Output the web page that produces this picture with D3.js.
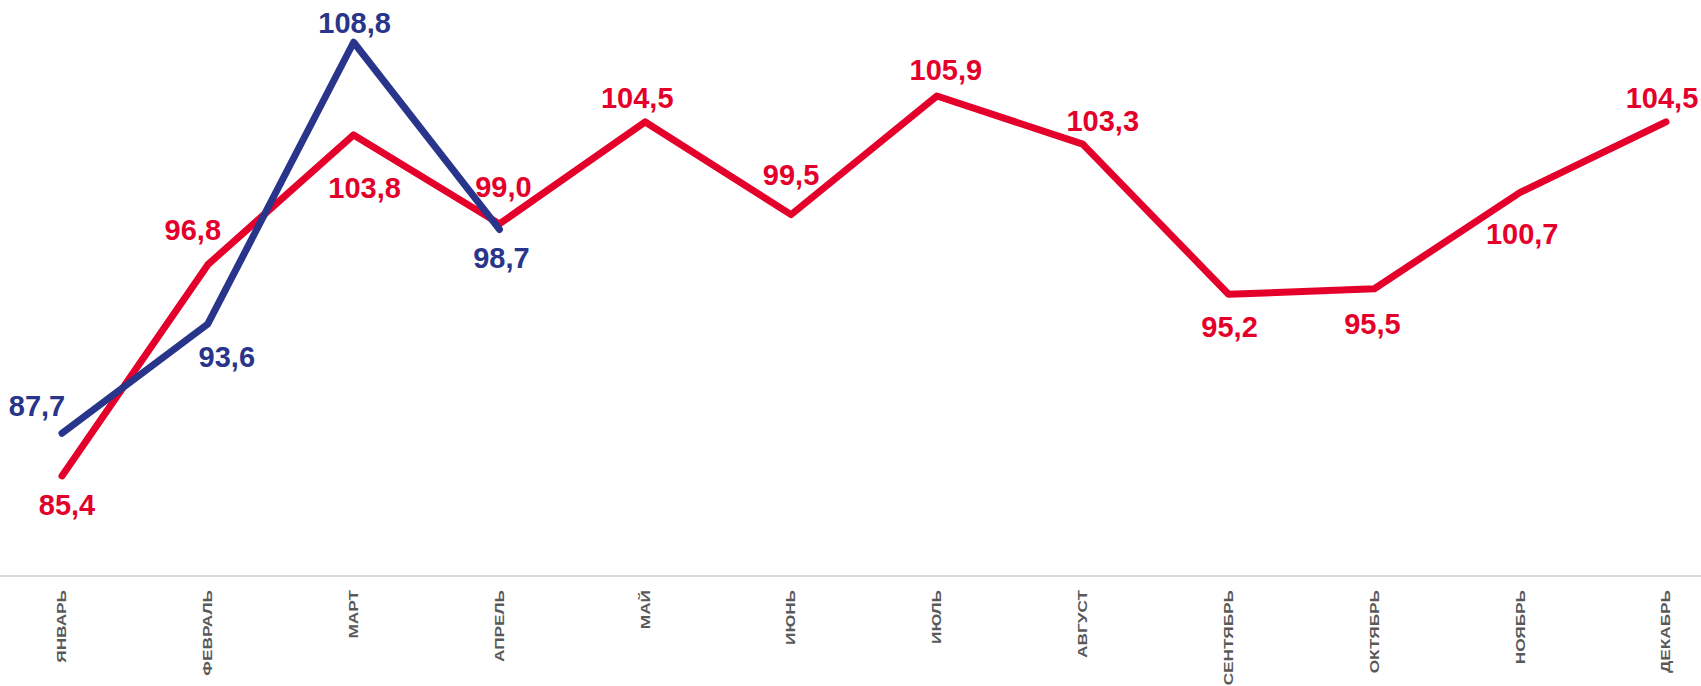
<!DOCTYPE html>
<html>
<head>
<meta charset="utf-8">
<script src="https://cdn.jsdelivr.net/npm/d3@7"></script>
<style>
    body { margin: 0; background: #fff; }
    svg { display: block; }
</style>
</head>
<body>
<svg id="chart"></svg>
<script>
// months on the category axis
const months = ['ЯНВАРЬ', 'ФЕВРАЛЬ', 'МАРТ', 'АПРЕЛЬ', 'МАЙ', 'ИЮНЬ', 'ИЮЛЬ', 'АВГУСТ', 'СЕНТЯБРЬ', 'ОКТЯБРЬ', 'НОЯБРЬ', 'ДЕКАБРЬ'];

// red series (full year)
const redValues = [85.4, 96.8, 103.8, 99.0, 104.5, 99.5, 105.9, 103.3, 95.2, 95.5, 100.7, 104.5];

// blue series (only first four months)
const blueValues = [87.7, 93.6, 108.8, 98.7];

// where each data label sits relative to its point [dx, dy]
const redLabelOffsets = [[5, 29], [-15, -35], [11, 53], [4, -37], [-8, -24], [0, -40], [9, -26], [20, -23], [1, 33], [-2, 35], [2, 41], [-4, -24]];
const blueLabelOffsets = [[-25, -27], [19, 33], [1, -19], [2, 28]];

class lineChart {

    constructor(config) {
        this.config = {
            parent: config.parent,
            width: config.width || 1701,
            height: config.height || 686,
            margin: config.margin || { top: 20, right: 35, bottom: 110, left: 62 }
        };
        this.init();
    }

    init() {
        let self = this;

        self.svg = d3.select(self.config.parent)
            .attr('width', self.config.width)
            .attr('height', self.config.height);

        self.xScale = d3.scalePoint()
            .domain(months)
            .range([self.config.margin.left, self.config.width - self.config.margin.right]);

        self.yScale = d3.scaleLinear()
            .domain([80, 110])
            .range([self.config.height - self.config.margin.bottom, self.config.margin.top]);

        self.line = d3.line()
            .x(d => self.xScale(d.month))
            .y(d => self.yScale(d.value));
    }

    render() {
        let self = this;
        let baseY = self.yScale(80);

        // category axis: a light line across the whole width, no ticks
        let xAxis = self.svg.append('g')
            .attr('transform', `translate(0, ${baseY})`)
            .call(d3.axisBottom(self.xScale).tickSize(0).tickFormat(''));
        xAxis.select('.domain')
            .attr('d', `M0,0H${self.config.width}`)
            .attr('stroke', '#d9d9d9')
            .attr('stroke-width', 2);

        self.svg.append('g')
            .selectAll('text')
            .data(months)
            .join('text')
            .attr('transform', d => `translate(${self.xScale(d)}, ${baseY + 14}) rotate(-90) scale(1.38, 1)`)
            .attr('text-anchor', 'end')
            .attr('dy', '0.35em')
            .style('font-family', '"Liberation Sans", Arial, sans-serif')
            .style('font-weight', 'bold')
            .style('font-size', '12.5px')
            .style('fill', '#595959')
            .text(d => d);

        let series = [
            { key: 'red', color: '#e4002b', values: redValues, offsets: redLabelOffsets },
            { key: 'blue', color: '#29358a', values: blueValues, offsets: blueLabelOffsets }
        ];

        series.forEach(s => {
            let points = s.values.map((v, i) => ({ month: months[i], value: v, offset: s.offsets[i] }));

            self.svg.append('path')
                .datum(points)
                .attr('d', self.line)
                .attr('fill', 'none')
                .attr('stroke', s.color)
                .attr('stroke-width', 7)
                .attr('stroke-linecap', 'round')
                .attr('stroke-linejoin', 'round');

            self.svg.append('g')
                .selectAll('text')
                .data(points)
                .join('text')
                .attr('x', d => self.xScale(d.month) + d.offset[0])
                .attr('y', d => self.yScale(d.value) + d.offset[1])
                .attr('dy', '0.35em')
                .attr('text-anchor', 'middle')
                .style('font-family', '"Liberation Sans", Arial, sans-serif')
                .style('font-weight', 'bold')
                .style('font-size', '29px')
                .style('fill', s.color)
                .text(d => d3.format('.1f')(d.value).replace('.', ','));
        });
    }
}

let chart = new lineChart({ parent: '#chart' });
chart.render();
</script>
</body>
</html>
